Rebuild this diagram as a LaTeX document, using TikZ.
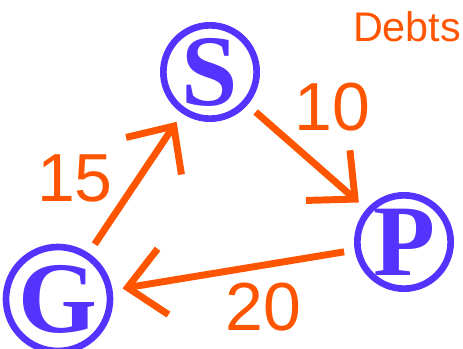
\documentclass[tikz,border=0pt]{standalone}
\usepackage{fontspec}
\setmainfont{Liberation Serif}
\setsansfont{Liberation Sans}
\usetikzlibrary{arrows.meta}
\definecolor{debtorange}{RGB}{255,85,0}
\definecolor{debtblue}{RGB}{85,51,255}

\begin{document}
\begin{tikzpicture}[x=0.75pt,y=-0.75pt]

\tikzstyle{debtnode} = [circle,draw=debtblue,line width=5pt,fill=white,inner sep=0,minimum size=70pt,text=debtblue,font=\fontsize{76}{76}\selectfont\bfseries]%
\tikzstyle{debtarc} = [-{Straight Barb[length=27pt,width=50pt]},draw=debtorange,line width=5.2pt,shorten <=8pt,shorten >=7.5pt]%
\tikzstyle{amount} = [inner sep=2pt,text=debtorange,font=\sffamily\fontsize{51}{51}\selectfont]%

\useasboundingbox (0,0) rectangle (463,349);

\node[text=debtorange,font=\sffamily\fontsize{31}{31}\selectfont] (title) at (407,27) {Debts};

\node[debtnode] (s) at (210,72) {S};
\node[debtnode] (p) at (404,242) {P};
\node[debtnode] (g) at (58,299) {G};

\draw[debtarc] (s) --
    node[pos=0.4,amount,anchor=south west,xshift=-5pt,yshift=7pt] {10}
    (p);

\draw[debtarc] (p) --
    node[pos=0.53,amount,anchor=north west,xshift=-5pt,yshift=-4pt] {20}
    (g);

\draw[debtarc] (g) --
    node[pos=0.35,amount,anchor=south east,xshift=-2pt,yshift=-3pt] {15}
    (s);

\end{tikzpicture}
\end{document}
